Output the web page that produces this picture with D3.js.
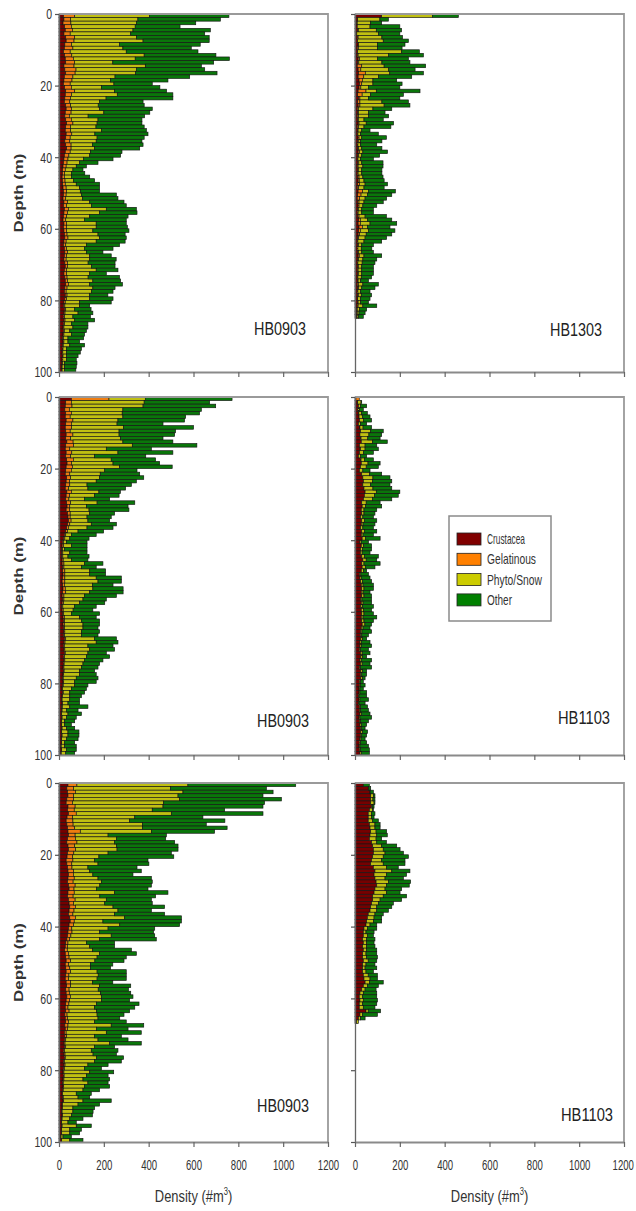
<!DOCTYPE html>
<html><head><meta charset="utf-8">
<script src="https://cdn.jsdelivr.net/npm/d3@7"></script>
<style>body{margin:0;background:#fff}svg{display:block}text{font-family:"Liberation Sans",Arial,sans-serif}</style>
</head><body><svg id="c" width="636" height="1211"></svg>
<script>
// ---------- data (density #/m3 per 1 m depth bin, 0..N-1 m) ----------
const seriesNames = ["Crustacea","Gelatinous","Phyto/Snow","Other"];
const seriesColors = ["#800000","#ff8000","#cccc00","#008000"];
const barColors = ["#760000","#ef7d10","#c0c012","#0a760a"];
const depthTicks = [0,20,40,60,80,100];
const densityTicks = [0,200,400,600,800,1000,1200];
const panelLabels = ["HB0903","HB1303","HB0903","HB1103","HB0903","HB1103"];

// Panel A: HB0903 (row 1, left)
const crustA = [20,22,18,25,28,22,30,32,26,24, 20,25,28,30,22,26,30,24,22,20, 25,30,28,26,24,30,32,28,26,30, 34,30,28,32,30,26,30,34,28,24, 22,20,18,16,15,14,15,16,18,20, 20,18,22,20,24,22,20,18,22,20, 22,24,26,22,20,24,26,24,22,26, 28,24,22,26,28,30,26,24,28,26, 22,20,24,22,20,22,20,18,20,18, 16,18,16,15,14,15,14,13,12,12];
const gelA = [50,30,35,30,32,28,40,35,30,38, 30,32,36,40,45,50,42,38,36,30, 30,40,28,25,24,22,24,26,20,25, 28,22,24,25,20,22,24,20,22,20, 18,16,14,12,10,10,12,12,14,14, 12,12,16,14,18,16,14,12,12,14, 12,12,14,10,10,10,12,10,10,12, 10,10,12,10,10,12,10,8,8,8, 6,6,6,5,5,5,5,4,4,4, 4,4,3,3,3,3,3,3,2,2];
const phytoA = [334,300,292,285,270,270,275,308,214,223, 250,323,276,170,318,269,270,188,172,195, 135,178,204,159,132,123,125,146,84,119, 108,113,137,103,120,118,96,105,90,93, 70,56,45,34,30,31,38,49,60,61, 68,75,99,111,169,142,103,84,132,132, 117,138,141,134,92,80,84,103,105,92, 107,132,103,94,113,95,115,113,101,103, 64,66,40,58,37,43,30,40,24,33, 20,18,29,15,16,15,16,9,11,11];
const otherA = [354,368,265,200,345,330,325,295,360,305, 320,320,420,450,250,305,363,333,256,171, 260,232,248,298,195,205,235,205,252,196, 200,215,201,237,210,204,225,201,141,138, 131,82,45,45,60,82,94,104,89,86, 156,158,153,155,134,168,171,186,134,139, 161,121,119,129,148,127,74,96,118,120, 105,97,74,140,124,146,99,96,81,104, 141,45,73,66,78,89,74,67,74,59, 70,52,66,67,62,52,44,55,52,50];

// Panel B: HB1303 (row 1, right)
const crustB = [119,12,8,10,12,8,10,12,14,10, 12,10,14,12,10,14,16,14,18,20, 18,14,12,16,12,14,10,12,10,12, 14,10,12,10,14,12,10,12,14,12, 10,12,10,12,10,12,14,12,10,14, 12,10,12,14,12,10,12,16,14,18, 16,14,12,10,12,10,12,14,12,10, 12,10,12,10,12,10,12,10,12,10, 12,10,8,8,8];
const gelB = [0,0,2,0,3,0,4,0,2,5, 0,4,6,5,20,12,30,25,15,10, 8,35,20,6,10,8,5,4,6,3, 4,6,2,3,4,5,3,4,6,4, 3,5,4,3,4,6,5,8,6,20, 15,10,6,4,3,4,6,8,10,15, 8,6,4,3,4,3,4,5,4,3, 3,4,3,3,2,5,4,3,3,2, 2,4,2,2,1];
const phytoB = [226,99,60,57,80,97,106,114,84,85, 196,136,80,103,100,124,109,66,47,50, 34,46,38,38,98,108,65,44,44,25, 32,24,16,12,12,8,12,14,15,14, 12,13,21,15,16,17,21,25,24,26, 28,25,22,17,15,16,27,31,43,22, 36,30,29,27,14,15,14,21,19,19, 15,16,15,15,11,20,14,12,13,13, 11,21,10,8,6];
const otherB = [116,38,49,133,113,95,92,112,123,110, 79,155,138,125,185,118,150,148,106,130, 140,195,146,140,118,115,84,74,90,86, 122,120,37,79,110,95,72,90,110,80, 57,95,90,90,90,90,90,100,90,120, 109,96,86,62,52,52,95,109,119,101, 118,114,96,79,52,47,52,79,62,57, 52,52,52,46,35,69,59,42,46,42, 35,62,32,27,22];

// Panel C: HB0903 (row 2, left)
const crustC = [55,30,28,26,30,28,32,30,28,30, 32,30,35,30,28,32,30,34,36,32, 30,28,34,32,30,28,35,32,30,34, 36,32,38,40,42,38,34,30,24,20, 15,14,12,12,12,14,14,16,16,18, 16,14,16,18,16,14,16,14,12,14, 16,18,20,18,20,22,20,24,22,20, 22,24,20,22,20,18,20,18,16,18, 16,14,16,14,12,14,12,12,10,12, 10,10,12,10,12,10,10,8,10,8];
const gelC = [168,25,30,20,25,22,30,25,28,20, 30,22,28,35,20,25,22,30,20,28, 25,20,18,15,18,15,20,15,14,18, 12,15,12,10,12,10,8,8,6,6, 5,6,4,5,5,5,8,6,10,8, 10,12,8,10,14,8,6,6,5,5, 5,6,5,6,5,4,5,6,5,4, 4,4,5,4,3,4,3,3,3,3, 3,2,3,2,2,2,3,2,2,2, 2,2,2,2,2,2,2,2,2,2];
const phytoC = [162,325,317,239,227,235,201,204,232,218, 206,222,222,262,163,206,107,169,185,210, 149,136,129,119,77,86,123,112,70,118, 74,87,87,75,75,96,83,47,25,22, 13,35,9,31,23,36,92,78,111,111, 140,148,126,123,107,92,85,72,53,44, 34,68,75,83,82,74,75,129,139,105, 111,101,97,88,84,78,69,71,58,49, 51,39,29,32,34,24,33,19,28,19, 13,13,19,28,26,21,13,15,21,20];
const otherC = [387,292,324,350,345,280,297,205,312,252, 248,190,223,288,201,245,228,198,208,235, 144,176,197,179,198,168,96,109,112,168, 186,178,111,108,97,112,116,114,111,86, 92,70,100,77,94,74,82,66,71,71, 112,104,91,135,149,142,104,112,96,88, 126,74,81,74,67,81,74,97,97,112, 111,82,104,82,74,74,67,74,97,96, 59,67,66,52,44,52,81,52,60,44, 45,30,37,49,49,52,45,52,44,40];

// Panel D: HB1103 (row 2, right)
const crustD = [4,10,15,12,15,18,20,15,20,25, 22,25,28,20,22,20,15,25,28,25, 20,30,35,38,35,40,45,42,38,30, 32,28,30,25,30,28,25,30,28,32, 22,28,25,24,30,35,30,32,28,20, 22,25,28,30,28,30,25,28,26,28, 30,28,30,32,28,25,24,26,22,22, 20,24,26,22,24,20,26,24,26,20, 20,18,18,15,18,15,20,20,22,18, 20,22,24,26,24,22,20,18,20,22];
const gelD = [15,2,0,0,2,0,0,0,2,0, 0,2,0,0,3,0,0,2,0,0, 0,0,0,0,0,0,0,0,0,0, 0,0,0,0,0,0,0,0,0,0, 0,0,0,0,0,0,0,0,0,0, 0,0,0,0,0,0,0,0,0,0, 0,0,0,0,0,0,0,0,0,0, 0,0,0,0,0,0,0,0,0,0, 0,0,0,0,0,0,0,0,0,0, 0,0,0,0,0,0,0,0,0,0];
const phytoD = [0,15,10,8,12,15,18,10,14,45, 40,30,50,25,20,18,10,15,30,25, 15,35,45,40,35,40,50,45,40,20, 15,12,10,10,12,8,10,12,8,15, 6,10,8,8,12,15,10,14,10,6, 6,8,8,10,8,10,6,8,8,10, 10,8,10,12,8,6,6,8,6,6, 5,8,8,6,8,5,8,6,8,5, 5,4,4,3,4,3,5,5,6,4, 5,6,6,8,6,5,5,4,5,6];
const otherD = [0,3,27,17,26,34,36,27,38,56, 57,55,66,52,59,44,27,40,54,54, 32,54,76,86,86,84,105,106,86,62, 72,57,49,47,55,53,47,55,46,65, 32,36,41,35,62,47,72,43,14,34, 39,41,46,42,31,34,43,38,48,36, 42,61,42,30,31,43,30,18,39,46, 35,35,18,46,35,49,18,22,11,12, 20,15,30,34,38,27,31,35,39,52, 35,24,15,22,22,18,27,38,39,36];

// Panel E: HB0903 (row 3, left)
const crustE = [40,35,38,40,35,32,40,38,42,36, 32,35,38,40,42,38,35,40,42,38, 36,32,35,38,40,42,40,38,42,45, 40,38,42,45,48,45,42,48,50,45, 42,40,38,35,30,28,25,28,30,32, 28,30,32,30,28,32,34,30,32,35, 32,30,28,30,26,28,30,26,28,24, 26,24,22,24,20,22,24,20,22,20, 18,20,18,16,18,16,14,16,18,14, 14,12,14,12,10,12,10,10,8,10];
const gelE = [40,30,35,25,30,28,32,30,35,25, 30,28,32,55,30,35,45,30,32,28, 25,30,22,20,25,22,28,25,30,22, 28,25,30,20,25,22,20,25,18,20, 15,18,15,12,10,10,12,14,15,20, 15,18,20,14,15,20,18,15,14,16, 15,14,12,15,10,10,12,14,10,8, 8,6,5,6,5,5,4,4,5,4, 4,3,4,3,3,3,2,3,3,2, 2,2,2,2,2,2,2,2,1,2];
const phytoE = [495,432,480,466,473,407,392,348,424,277, 253,309,302,317,147,183,168,186,185,153, 117,97,117,71,72,87,106,126,110,100, 180,119,139,139,168,196,186,220,128,206, 162,123,180,134,82,99,113,139,125,108, 97,92,118,131,127,98,128,130,139,139, 142,123,119,122,134,136,117,193,129,179, 125,144,199,129,119,125,139,135,102,90, 115,99,85,110,93,88,61,66,86,69, 46,48,39,34,28,63,36,36,9,36];
const otherE = [481,428,402,379,454,450,446,323,409,304, 425,285,378,282,260,220,268,275,272,282, 334,238,227,219,230,179,238,227,230,230, 238,249,201,212,230,149,223,253,350,267, 208,241,194,253,126,111,173,164,130,130, 100,90,130,125,130,90,140,135,135,140, 126,190,179,148,120,97,141,145,141,156, 119,134,141,89,119,104,121,119,90,75, 107,97,119,90,112,74,67,52,126,96, 97,90,94,59,37,67,52,44,37,59];

// Panel F: HB1103 (row 3, right)
const crustF = [37,59,67,70,70,70,74,64,59,59, 59,64,67,70,67,64,74,79,82,82, 79,74,70,82,89,85,89,94,97,89, 85,79,79,74,70,67,59,55,52,49, 40,37,37,34,37,34,37,34,34,37, 34,34,34,37,40,45,37,30,22,19, 22,19,19,49,22,15,7];
const gelF = [0,0,0,0,0,0,0,0,0,0, 0,0,0,0,0,0,0,0,0,0, 0,0,0,0,0,0,0,0,0,0, 0,0,0,0,0,0,0,0,0,0, 0,0,0,0,0,0,0,0,0,0, 0,0,0,0,0,0,0,0,0,0, 0,0,0,0,0,0,0];
const phytoF = [0,1,1,12,10,15,4,15,15,15, 20,25,22,24,30,30,23,40,44,52, 47,45,56,59,75,56,45,55,44,45, 56,47,33,30,27,30,30,30,30,18, 15,12,18,18,15,18,15,15,18,22, 15,11,15,22,27,19,18,15,15,15, 15,15,18,10,12,10,8];
const otherF = [27,10,14,7,9,4,7,3,15,11, 25,23,23,47,47,25,43,67,75,82, 112,104,97,52,81,89,82,99,101,74, 60,104,96,67,67,52,37,34,37,30, 42,36,27,37,33,37,45,48,48,38, 40,52,33,41,33,62,49,49,60,63, 63,63,52,55,66,20,0];

// ---------- layout ----------
const svg = d3.select("#c");
const colLeft = [59, 355], plotW = 269;
const rowTop = [14, 397, 783], rowBot = [372, 755, 1142];
const labelPos = [[280,335],[576,336],[283,727],[584,724],[283,1112],[587,1121]];

const panels = [
  [crustA,gelA,phytoA,otherA],[crustB,gelB,phytoB,otherB],
  [crustC,gelC,phytoC,otherC],[crustD,gelD,phytoD,otherD],
  [crustE,gelE,phytoE,otherE],[crustF,gelF,phytoF,otherF]
];
const keys = ["s0","s1","s2","s3"];
const stack = d3.stack().keys(keys);

panels.forEach((ser, pi) => {
  const col = pi % 2, row = Math.floor(pi / 2);
  const x0 = colLeft[col];
  const x = d3.scaleLinear().domain([0,1200]).range([x0, x0 + plotW]);
  const y = d3.scaleLinear().domain([0,100]).range([rowTop[row], rowBot[row]]);
  const rows = ser[0].map((_, i) => ({depth:i, s0:ser[0][i], s1:ser[1][i], s2:ser[2][i], s3:ser[3][i]}));
  const layers = stack(rows);
  const g = svg.append("g");
  layers.forEach((layer, k) => {
    g.selectAll(null).data(layer.filter(d => d[1] - d[0] > 0)).enter().append("rect")
      .attr("x", d => x(d[0]))
      .attr("width", d => x(d[1]) - x(d[0]))
      .attr("y", d => y(d.data.depth))
      .attr("height", d => y(d.data.depth + 1) - y(d.data.depth))
      .attr("fill", barColors[k])
      .attr("stroke", "#141414").attr("stroke-width", 0.65);
  });
  // frame
  g.append("line").attr("x1", x0).attr("x2", x0 + plotW).attr("y1", rowTop[row]).attr("y2", rowTop[row])
    .attr("stroke", "#9a9a9a").attr("stroke-width", 2.2);
  g.append("line").attr("x1", x0 + plotW).attr("x2", x0 + plotW).attr("y1", rowTop[row] - 1).attr("y2", rowBot[row])
    .attr("stroke", "#9a9a9a").attr("stroke-width", 1.8);
  // axes
  const ya = g.append("g").attr("transform", `translate(${x0},0)`)
    .call(d3.axisLeft(y).tickValues(depthTicks).tickSize(4).tickSizeOuter(0).tickPadding(3)
      .tickFormat(col === 0 ? d => d : () => ""));
  ya.select(".domain").attr("stroke", "#666").attr("stroke-width", 1.3);
  ya.selectAll(".tick line").attr("stroke", "#555").attr("stroke-width", 1.2);
  ya.selectAll(".tick text").attr("font-size", 15).attr("fill", "#333")
    .attr("font-family", "Liberation Sans, Arial, sans-serif")
    .attr("x", -7 / 0.7).attr("transform", "scale(0.7,1)");
  const xa = g.append("g").attr("transform", `translate(0,${rowBot[row]})`)
    .call(d3.axisBottom(x).tickValues(densityTicks).tickSize(5).tickSizeOuter(0).tickPadding(12)
      .tickFormat(row === 2 ? d => d : () => ""));
  xa.select(".domain").attr("stroke", "#8a8a8a").attr("stroke-width", 1.8);
  xa.selectAll(".tick line").attr("stroke", "#666").attr("stroke-width", 1.2);
  xa.selectAll(".tick text").attr("font-size", 15).attr("fill", "#333")
    .attr("font-family", "Liberation Sans, Arial, sans-serif")
    .attr("x", d => (col === 1 && d === 1200) ? -2 : 0)
    .attr("transform", "scale(0.64,1)");
  // panel label
  g.append("text").attr("x", labelPos[pi][0]).attr("y", labelPos[pi][1])
    .attr("text-anchor", "middle").attr("font-size", 18).attr("fill", "#222")
    .attr("textLength", 52).attr("lengthAdjust", "spacingAndGlyphs")
    .text(panelLabels[pi]);
  // y title (left column)
  if (col === 0) {
    const cy = (rowTop[row] + rowBot[row]) / 2;
    svg.append("text").attr("transform", `translate(23,${cy}) rotate(-90) scale(1,0.72)`)
      .attr("text-anchor", "middle").attr("font-size", 17).attr("font-weight", "bold").attr("fill", "#333")
      .attr("textLength", 79).attr("lengthAdjust", "spacingAndGlyphs")
      .text("Depth (m)");
  }
  // x title (bottom row)
  if (row === 2) {
    const cx = x0 + plotW / 2;
    const t = svg.append("text").attr("transform", `translate(${cx},1202) scale(0.76,1)`)
      .attr("text-anchor", "middle").attr("font-size", 17).attr("fill", "#333");
    t.append("tspan").text("Density (#m");
    t.append("tspan").attr("font-size", 10).attr("dy", -7).text("3");
    t.append("tspan").attr("dy", 7).text(")");
  }
});

// legend
const lg = svg.append("g");
lg.append("rect").attr("x", 449).attr("y", 516).attr("width", 102).attr("height", 105)
  .attr("fill", "#fff").attr("stroke", "#8a8a8a").attr("stroke-width", 1.5);
const legW = [38, 49, 55, 25];
seriesNames.forEach((n, i) => {
  const cy = 539 + i * 20.3;
  lg.append("rect").attr("x", 457).attr("y", cy - 6).attr("width", 24).attr("height", 12)
    .attr("fill", seriesColors[i]).attr("stroke", "#222").attr("stroke-width", 0.8);
  lg.append("text").attr("x", 487).attr("y", cy + 5).attr("font-size", 15).attr("fill", "#333")
    .attr("textLength", legW[i]).attr("lengthAdjust", "spacingAndGlyphs").text(n);
});
</script></body></html>
